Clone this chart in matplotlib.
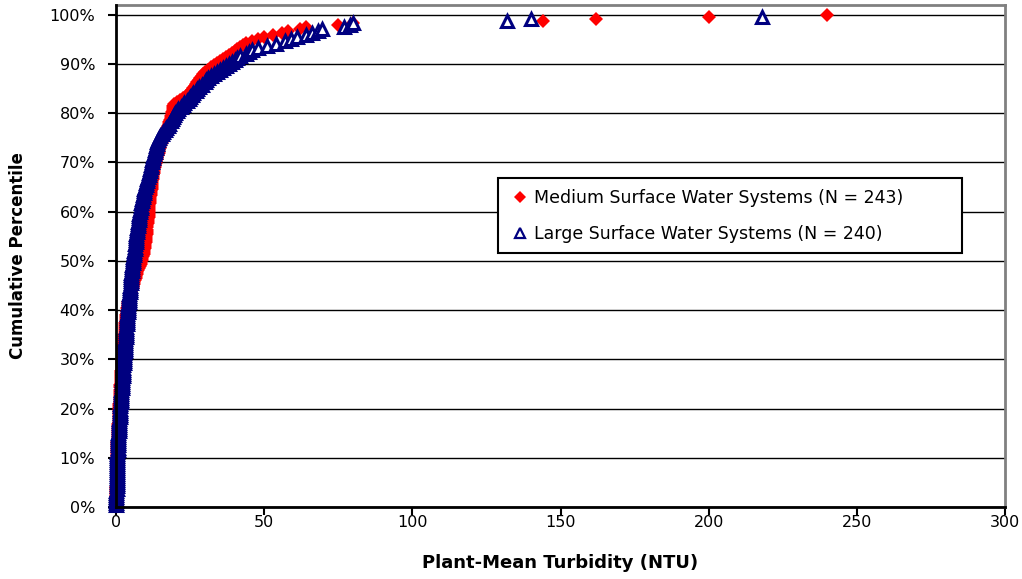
# Cumulative distribution of plant-mean turbidity, medium vs large surface water systems

import matplotlib
matplotlib.use("Agg")
import matplotlib.pyplot as plt
import numpy as np

# plant-mean turbidity (NTU), sorted, one value per plant
medium_ntu = [
    0.02, 0.05, 0.05, 0.08, 0.1, 0.1, 0.1, 0.12, 0.15, 0.15, 0.18, 0.2,
    0.2, 0.2, 0.22, 0.24, 0.25, 0.26, 0.28, 0.3, 0.3, 0.3, 0.32, 0.35,
    0.35, 0.4, 0.4, 0.45, 0.45, 0.5, 0.5, 0.5, 0.55, 0.6, 0.6, 0.65,
    0.7, 0.7, 0.75, 0.8, 0.8, 0.85, 0.9, 0.9, 0.95, 1.0, 1.0, 1.05,
    1.1, 1.1, 1.15, 1.2, 1.25, 1.3, 1.3, 1.35, 1.4, 1.45, 1.5, 1.5,
    1.55, 1.6, 1.65, 1.7, 1.75, 1.8, 1.85, 1.9, 1.95, 2.0, 2.0, 2.1,
    2.15, 2.2, 2.25, 2.3, 2.35, 2.4, 2.45, 2.5, 2.55, 2.6, 2.7, 2.8,
    2.85, 2.9, 2.95, 3.0, 3.05, 3.1, 3.2, 3.25, 3.3, 3.4, 3.5, 3.6,
    3.7, 3.8, 3.9, 4.0, 4.2, 4.4, 4.6, 4.8, 5.0, 5.2, 5.4, 5.6,
    5.8, 6.0, 6.2, 6.4, 6.6, 6.8, 7.0, 7.2, 7.4, 7.7, 8.0, 8.3,
    8.5, 8.7, 8.9, 9.1, 9.3, 9.5, 9.6, 9.7, 9.8, 9.9, 10.0, 10.0,
    10.1, 10.2, 10.3, 10.4, 10.5, 10.5, 10.6, 10.7, 10.8, 10.9, 11.0, 11.0,
    11.0, 11.1, 11.2, 11.2, 11.3, 11.4, 11.5, 11.5, 11.6, 11.7, 11.8, 11.9,
    12.0, 12.0, 12.1, 12.2, 12.3, 12.4, 12.5, 12.6, 12.7, 12.8, 12.9, 13.0,
    13.2, 13.4, 13.6, 13.8, 14.0, 14.2, 14.4, 14.6, 14.8, 15.0, 15.2, 15.4,
    15.6, 15.8, 16.0, 16.3, 16.6, 16.9, 17.2, 17.5, 17.8, 18.0, 18.2, 18.5,
    18.6, 18.8, 19.0, 19.1, 19.2, 19.3, 19.5, 20.5, 21.5, 22.5, 23.5, 24.5,
    25.0, 25.5, 26.0, 26.5, 27.0, 27.5, 28.0, 28.5, 29.0, 29.5, 30.0, 31.0,
    32, 33, 34, 35, 36, 37, 38, 39, 40, 41, 42, 43,
    44, 46, 48, 50, 53, 56, 58, 62, 64, 75, 80, 144, 162, 200, 240,
]

large_ntu = [
    0.05, 0.08, 0.1, 0.1, 0.12, 0.14, 0.15, 0.16, 0.18, 0.2, 0.2, 0.22,
    0.24, 0.26, 0.28, 0.3, 0.3, 0.32, 0.34, 0.36, 0.38, 0.4, 0.4, 0.42,
    0.45, 0.48, 0.5, 0.55, 0.6, 0.6, 0.65, 0.7, 0.7, 0.75, 0.8, 0.8,
    0.85, 0.9, 0.95, 1.0, 1.0, 1.1, 1.1, 1.2, 1.2, 1.3, 1.3, 1.4,
    1.45, 1.5, 1.55, 1.6, 1.65, 1.7, 1.75, 1.8, 1.85, 1.9, 1.95, 2.0,
    2.05, 2.1, 2.15, 2.2, 2.25, 2.3, 2.4, 2.45, 2.5, 2.55, 2.6, 2.7,
    2.75, 2.8, 2.85, 2.9, 2.95, 3.0, 3.05, 3.1, 3.15, 3.2, 3.25, 3.3,
    3.35, 3.4, 3.45, 3.5, 3.6, 3.65, 3.7, 3.75, 3.8, 3.85, 3.9, 4.0,
    4.05, 4.1, 4.2, 4.25, 4.3, 4.4, 4.45, 4.5, 4.6, 4.65, 4.7, 4.8,
    4.9, 4.95, 5.0, 5.1, 5.15, 5.2, 5.3, 5.35, 5.4, 5.5, 5.6, 5.7,
    5.8, 5.9, 6.0, 6.1, 6.2, 6.3, 6.4, 6.5, 6.6, 6.65, 6.7, 6.8,
    6.9, 7.0, 7.1, 7.2, 7.3, 7.4, 7.5, 7.6, 7.7, 7.8, 7.9, 8.0,
    8.1, 8.3, 8.4, 8.6, 8.7, 8.9, 9.0, 9.2, 9.3, 9.5, 9.6, 9.8,
    10.0, 10.2, 10.4, 10.6, 10.8, 11.0, 11.2, 11.4, 11.5, 11.7, 11.8, 12.0,
    12.2, 12.4, 12.6, 12.8, 13.0, 13.2, 13.4, 13.6, 13.8, 14.0, 14.2, 14.5,
    15.0, 15.5, 16.0, 16.5, 17.0, 17.5, 18.0, 18.5, 19.0, 19.3, 19.6, 20.0,
    20.5, 21.0, 22.0, 22.5, 23.0, 24.0, 24.5, 25.0, 25.5, 26.0, 27.0, 27.5,
    28, 29, 30, 30.5, 31, 32, 33, 34, 35, 36, 37, 38,
    39, 40, 41, 42, 44, 45, 46, 48, 51, 54, 57, 59,
    61, 64, 66, 68, 69.5, 77, 79, 80, 132, 140, 218, 350,
]

medium_label = "Medium Surface Water Systems (N = 243)"
large_label = "Large Surface Water Systems (N = 240)"

xmax = 300

fig = plt.figure(figsize=(10.22, 5.79), dpi=100)
ax = fig.add_axes([0.1135, 0.1244, 0.8699, 0.867])


def plot_cdf(values, **kw):
    x = np.sort(np.asarray(values, dtype=float))
    pct = np.arange(1, len(x) + 1) / len(x)
    keep = x <= xmax   # values past the axis end are not shown
    return ax.plot(x[keep], pct[keep], linestyle="none", clip_on=False, **kw)[0]


plot_cdf(medium_ntu, marker="D", markersize=7.2, color="#ff0000",
         markeredgewidth=0, label=medium_label, zorder=3)
plot_cdf(large_ntu, marker="^", markersize=8.5, markerfacecolor="white",
         markeredgecolor="#000080", markeredgewidth=2.2,
         label=large_label, zorder=4)

ax.set_xlim(0, xmax)
ax.set_ylim(0, 1.02)
ax.set_xticks(np.arange(0, 301, 50))
ax.set_yticks(np.arange(0, 1.01, 0.1))
ax.set_yticklabels([f"{v}%" for v in range(0, 101, 10)])

ax.yaxis.grid(True, color="black", linewidth=1.0)
ax.set_axisbelow(True)

for side in ("top", "right"):
    ax.spines[side].set_color("#808080")
    ax.spines[side].set_linewidth(2)
for side in ("left", "bottom"):
    ax.spines[side].set_color("black")
    ax.spines[side].set_linewidth(2)
    ax.spines[side].set_zorder(5)

ax.tick_params(axis="both", direction="out", length=6, width=1.5,
               labelsize=11.5, colors="black")
ax.tick_params(axis="x", pad=0)
ax.tick_params(axis="y", pad=9)

ax.set_xlabel("Plant-Mean Turbidity (NTU)", fontsize=13, fontweight="bold",
              labelpad=17)
ax.set_ylabel("Cumulative Percentile", fontsize=12, fontweight="bold",
              labelpad=16)

leg = ax.legend(loc="upper left", bbox_to_anchor=(0.4297, 0.51, 0.522, 0.145),
                mode="expand", fontsize=12.5, frameon=True, fancybox=False,
                framealpha=1, edgecolor="black", handlelength=1.3,
                handletextpad=0.2, borderpad=0.6, labelspacing=1.05,
                borderaxespad=0)
leg.get_frame().set_linewidth(1.5)
for h in leg.legend_handles:
    if h.get_marker() == "^":
        h.set_markersize(7)
        h.set_markeredgewidth(1.6)
    else:
        h.set_markersize(6)

fig.savefig("out.png", dpi=100)
